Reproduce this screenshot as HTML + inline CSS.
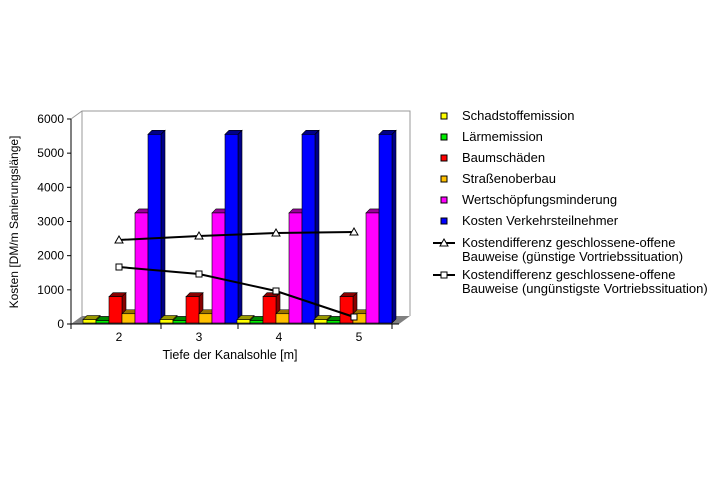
<!DOCTYPE html>
<html><head><meta charset="utf-8"><style>
body{margin:0;background:#fff;}
svg{display:block;font-family:"Liberation Sans",Arial,sans-serif;}
</style></head><body>
<svg id="s" width="720" height="480" xmlns="http://www.w3.org/2000/svg">
<rect width="720" height="480" fill="#fff"/>
<polyline points="71,119 82,111 410,111 410,316" fill="none" stroke="#999" stroke-width="1"/>
<polygon points="71,324 82,316 410,316 399,324" fill="#808080"/>
<line x1="82" y1="111" x2="82" y2="316" stroke="#999"/>
<g id="bars"></g>
<line x1="71" y1="119" x2="71" y2="324" stroke="#000"/>
<line x1="71" y1="324" x2="399" y2="324" stroke="#000"/>
<g id="ticks" font-size="12" fill="#000"></g>
<text x="230" y="359" font-size="12.5" text-anchor="middle">Tiefe der Kanalsohle [m]</text>
<text transform="translate(18,222) rotate(-90)" font-size="12" text-anchor="middle">Kosten [DM/m Sanierungslänge]</text>
<g id="lines"></g>
<g id="legend" font-size="13"></g>
</svg>
<script>
const NS="http://www.w3.org/2000/svg";
function el(p,t,a,txt){const e=document.createElementNS(NS,t);for(const k in a)e.setAttribute(k,a[k]);if(txt!=null)e.textContent=txt;document.getElementById(p).appendChild(e);return e;}
const Y=v=>324-v*0.03417;
for(let i=0;i<=6;i++){const y=Y(i*1000);el('ticks','line',{x1:67,y1:y,x2:71,y2:y,stroke:'#000'});el('ticks','text',{x:64,y:y+4,'text-anchor':'end'},String(i*1000));}
[71,161,238,315,392].forEach(x=>el('ticks','line',{x1:x,y1:324,x2:x,y2:329,stroke:'#000'}));
[2,3,4,5].forEach((c,i)=>el('ticks','text',{x:119+80*i,y:341,'text-anchor':'middle'},String(c)));
const ser=[["#ffff00","#999900",130],["#00ee00","#008800",100],["#ff0000","#880000",800],["#ffc000","#997300",300],["#ff00ff","#990099",3250],["#0000ff","#000088",5550]];
for(let i=0;i<4;i++){const g=83+77*i;ser.forEach((s,j)=>{const x=g+13*j,w=13,t=Y(s[2]),b=323,d=4;
el('bars','polygon',{points:`${x},${t} ${x+d},${t-d} ${x+w+d},${t-d} ${x+w},${t}`,fill:s[1],stroke:'#000','stroke-width':0.6});
el('bars','polygon',{points:`${x+w},${t} ${x+w+d},${t-d} ${x+w+d},${b-d} ${x+w},${b}`,fill:s[1],stroke:'#000','stroke-width':0.6});
el('bars','rect',{x:x,y:t,width:w,height:b-t,fill:s[0],stroke:'#000','stroke-width':0.6});});}
const tri=[[119,240],[199,236],[276,233],[354,232]],sq=[[119,267],[199,274],[276,291],[354,317]];
el('lines','polyline',{points:tri.map(p=>p.join(',')).join(' '),fill:'none',stroke:'#000','stroke-width':2});
el('lines','polyline',{points:sq.map(p=>p.join(',')).join(' '),fill:'none',stroke:'#000','stroke-width':2});
tri.forEach(([x,y])=>el('lines','polygon',{points:`${x},${y-4} ${x+4},${y+3} ${x-4},${y+3}`,fill:'#fff',stroke:'#000'}));
sq.forEach(([x,y])=>el('lines','rect',{x:x-3,y:y-3,width:6,height:6,fill:'#fff',stroke:'#000'}));
const names=["Schadstoffemission","Lärmemission","Baumschäden","Straßenoberbau","Wertschöpfungsminderung","Kosten Verkehrsteilnehmer"];
names.forEach((n,i)=>{const y=116+21*i;el('legend','rect',{x:441,y:y-3,width:6,height:6,fill:ser[i][0],stroke:'#000'});el('legend','text',{x:462,y:y+4},n);});
[[243,"Bauweise (günstige Vortriebssituation)",0],[275,"Bauweise (ungünstigste Vortriebssituation)",1]].forEach(([y,t2,k])=>{
el('legend','line',{x1:433,y1:y,x2:455,y2:y,stroke:'#000','stroke-width':2});
if(k==0)el('legend','polygon',{points:`444,${y-4} 448,${y+3} 440,${y+3}`,fill:'#fff',stroke:'#000'});
else el('legend','rect',{x:441,y:y-3,width:6,height:6,fill:'#fff',stroke:'#000'});
el('legend','text',{x:462,y:y+4},"Kostendifferenz geschlossene-offene");
el('legend','text',{x:462,y:y+18},t2);});
</script>
</body></html>
